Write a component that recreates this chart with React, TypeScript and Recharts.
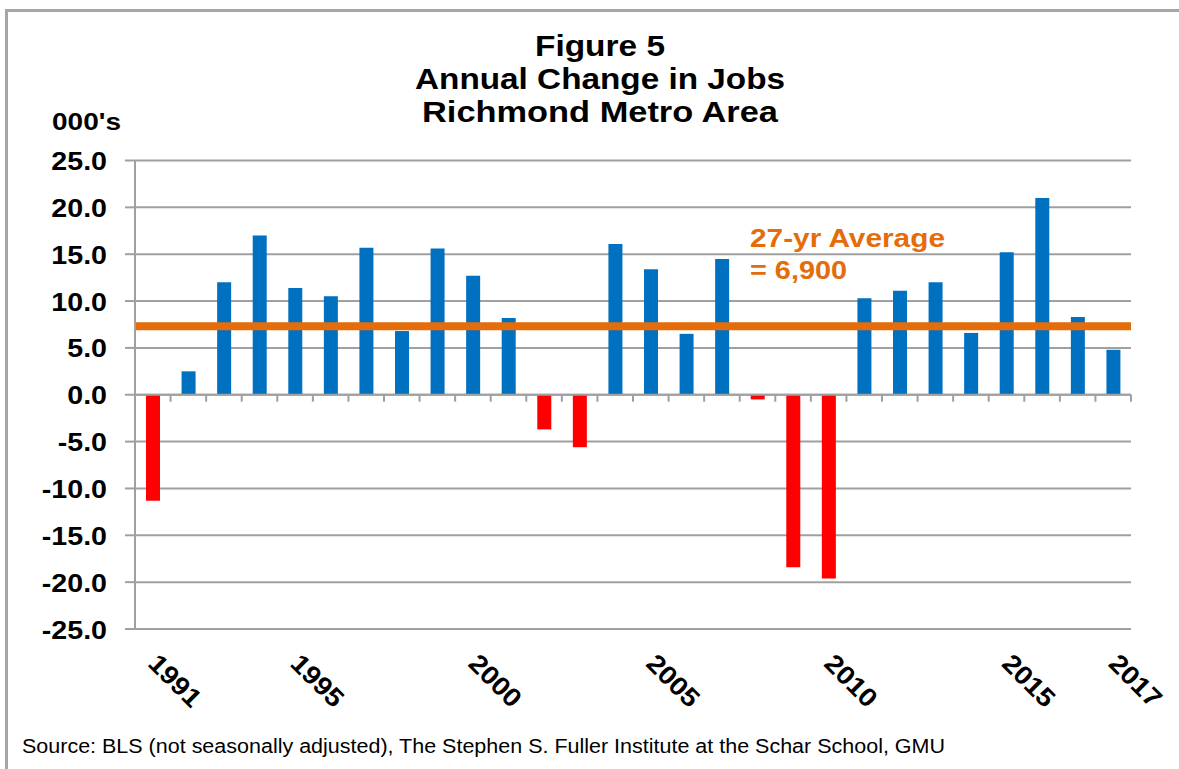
import React from 'react';
import { BarChart, Bar, XAxis, YAxis, CartesianGrid, ReferenceLine, Cell } from 'recharts';

const years = [
  1991, 1992, 1993, 1994, 1995, 1996, 1997, 1998, 1999, 2000,
  2001, 2002, 2003, 2004, 2005, 2006, 2007, 2008, 2009, 2010,
  2011, 2012, 2013, 2014, 2015, 2016, 2017, 2018,
];
const jobChange = [
  -11.3, 2.5, 12.0, 17.0, 11.4, 10.5, 15.7, 6.8, 15.6, 12.7,
  8.2, -3.7, -5.6, 16.1, 13.4, 6.5, 14.5, -0.5, -18.4, -19.6,
  10.3, 11.1, 12.0, 6.6, 15.2, 21.0, 8.3, 4.8,
];
const xTickLabels = [
  '1991', '', '', '', '1995', '', '', '', '', '2000',
  '', '', '', '', '2005', '', '', '', '', '2010',
  '', '', '', '', '2015', '', '', '2017',
];
const yTicks = [-25, -20, -15, -10, -5, 0, 5, 10, 15, 20, 25];
const averageLevel = 7.3;
const titleLines = ['Figure 5', 'Annual Change in Jobs', 'Richmond Metro Area'];
const unitLabel = "000's";
const averageLabel = ['27-yr Average', '= 6,900'];
const sourceText =
  'Source: BLS (not seasonally adjusted), The Stephen S. Fuller Institute at the Schar School,  GMU';

const data = years.map((y, i) => ({ year: String(y), value: jobChange[i], label: xTickLabels[i] }));

const FONT = "'Liberation Sans', Arial, Helvetica, sans-serif";
const BLUE = '#0070C0';
const RED = '#FF0000';
const ORANGE = '#E46C0A';
const GRID = '#a0a0a0';

const YTick = (props: any) => {
  const { x, y, payload } = props;
  return (
    <text
      transform={`translate(${x},${y}) scale(1.1,1)`}
      textAnchor="end"
      dy={9.5}
      fontFamily={FONT}
      fontWeight={700}
      fontSize={26}
      fill="#000"
    >
      {Number(payload.value).toFixed(1)}
    </text>
  );
};

const XTick = (props: any) => {
  const { x, y, index } = props;
  const label = data[index] ? data[index].label : '';
  if (!label) return <g />;
  return (
    <text
      transform={`translate(${x - 6},${y + 36}) rotate(45) scale(1.08,1)`}
      textAnchor="start"
      fontFamily={FONT}
      fontWeight={700}
      fontSize={26}
      fill="#000"
    >
      {label}
    </text>
  );
};

const ZeroAxis = (props: any) => {
  const { x1, y1, x2, y2 } = props;
  const n = data.length;
  const step = (x2 - x1) / n;
  return (
    <g>
      <line x1={x1} y1={y1} x2={x2} y2={y2} stroke={GRID} strokeWidth={2} />
      {data.map((_, i) => (
        <line
          key={i}
          x1={x1 + (i + 1) * step}
          x2={x1 + (i + 1) * step}
          y1={y1}
          y2={y1 + 7}
          stroke={GRID}
          strokeWidth={2}
        />
      ))}
    </g>
  );
};

export default function App() {
  return (
    <div
      style={{
        position: 'fixed',
        left: 0,
        top: 0,
        width: 1179,
        height: 769,
        background: '#fff',
        overflow: 'hidden',
      }}
    >
      <div style={{ position: 'absolute', left: 0, top: 0 }}>
        <BarChart
          width={1179}
          height={769}
          data={data}
          margin={{ top: 160.5, right: 48, bottom: 40, left: 35 }}
        >
          <CartesianGrid vertical={false} stroke={GRID} strokeWidth={2} />
          <XAxis
            dataKey="year"
            height={100}
            interval={0}
            axisLine={false}
            tickLine={false}
            tickSize={0}
            tickMargin={0}
            tick={<XTick />}
          />
          <YAxis
            type="number"
            domain={[-25, 25]}
            ticks={yTicks}
            interval={0}
            width={100}
            axisLine={{ stroke: GRID, strokeWidth: 2 }}
            tickLine={{ stroke: GRID, strokeWidth: 2 }}
            tickSize={10}
            tickMargin={18}
            tick={<YTick />}
          />
          <Bar dataKey="value" barSize={14} isAnimationActive={false}>
            {data.map((d, i) => (
              <Cell key={i} fill={d.value >= 0 ? BLUE : RED} />
            ))}
          </Bar>
          <ReferenceLine y={0} shape={ZeroAxis} />
          <ReferenceLine y={averageLevel} stroke={ORANGE} strokeWidth={8} />
        </BarChart>
      </div>
      <svg
        width={1179}
        height={769}
        style={{ position: 'absolute', left: 0, top: 0, pointerEvents: 'none' }}
      >
        <polyline points="6.5,769 6.5,10.5 1179,10.5" fill="none" stroke="#a6a6a6" strokeWidth={3} />
        <g fontFamily={FONT} fontWeight={700} fontSize={29} fill="#000" textAnchor="middle">
          <text x={600} y={56} textLength={130} lengthAdjust="spacingAndGlyphs">{titleLines[0]}</text>
          <text x={600} y={89} textLength={370} lengthAdjust="spacingAndGlyphs">{titleLines[1]}</text>
          <text x={600} y={122} textLength={356} lengthAdjust="spacingAndGlyphs">{titleLines[2]}</text>
        </g>
        <text x={52} y={130} fontFamily={FONT} fontWeight={700} fontSize={24} fill="#000" textLength={69} lengthAdjust="spacingAndGlyphs">
          {unitLabel}
        </text>
        <g fontFamily={FONT} fontWeight={700} fontSize={26} fill={ORANGE}>
          <text x={750} y={246.5} textLength={195} lengthAdjust="spacingAndGlyphs">{averageLabel[0]}</text>
          <text x={750} y={278.5} textLength={97} lengthAdjust="spacingAndGlyphs">{averageLabel[1]}</text>
        </g>
        <text x={22} y={753} fontFamily={FONT} fontSize={20} fill="#000" textLength={923} lengthAdjust="spacingAndGlyphs">
          {sourceText}
        </text>
      </svg>
    </div>
  );
}
